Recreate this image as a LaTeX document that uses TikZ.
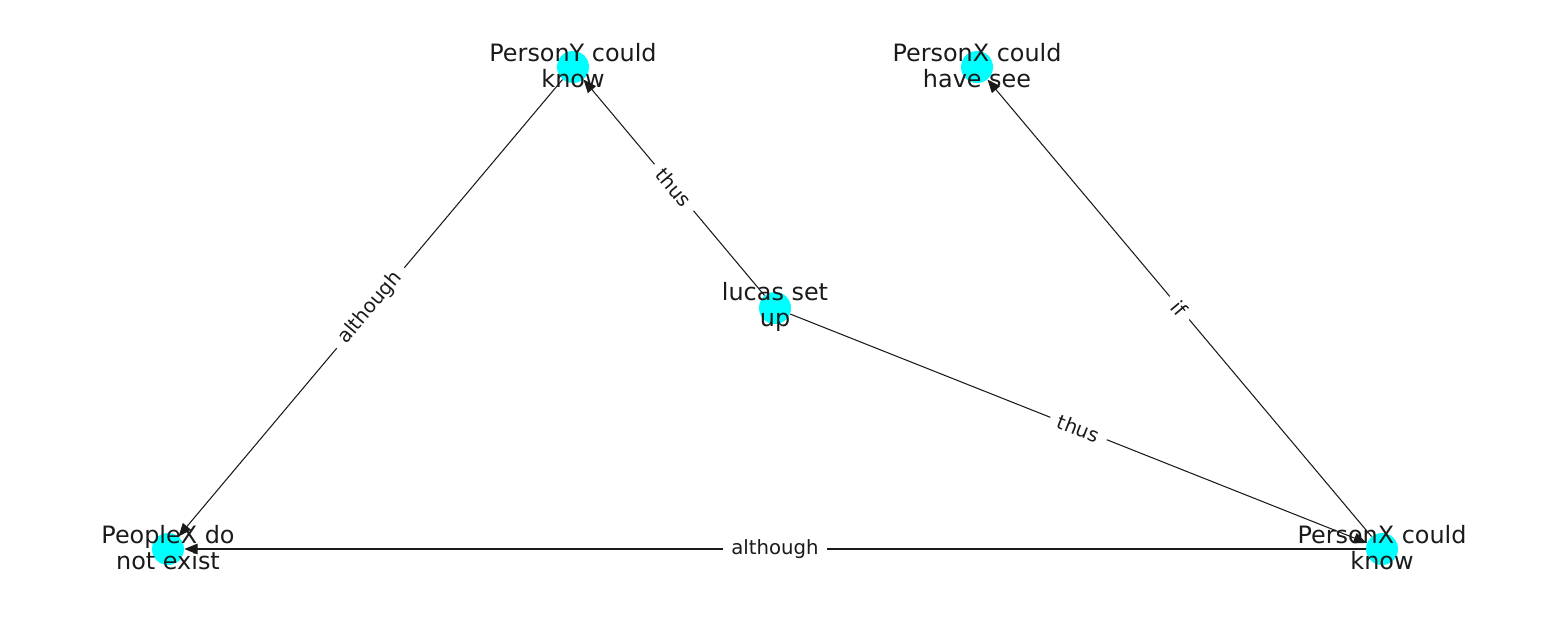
\documentclass[tikz,border=0pt]{standalone}
\usepackage{fontspec}
\setmainfont{DejaVu Sans}
\usetikzlibrary{arrows.meta}
\definecolor{nodecyan}{HTML}{00FFFF}
\definecolor{ink}{HTML}{1A1A1A}
\begin{document}
\begin{tikzpicture}[x=0.02cm,y=-0.02cm,
  dot/.style={circle,fill=nodecyan,minimum size=0.64cm,inner sep=0pt},
  caption/.style={text=ink,font=\fontsize{13.6}{14.8}\selectfont,align=center,inner sep=0pt},
  link/.style={draw=ink,line width=0.6pt,-{Triangle[length=7.5pt,width=6pt]}},
  tag/.style={fill=white,text=ink,font=\fontsize{11.2}{13}\selectfont,inner xsep=5pt,inner ysep=2pt,sloped}]
  \useasboundingbox (0,0) rectangle (1550,616);

  % node discs
  \node[dot] (py)  at (573,67)   {};
  \node[dot] (pxh) at (977,67)   {};
  \node[dot] (lu)  at (775,308)  {};
  \node[dot] (pe)  at (168,549)  {};
  \node[dot] (pxk) at (1382,549) {};

  % connectors
  \draw[link] (lu)  -- node[tag] {thus}     (py);
  \draw[link] (lu)  -- node[tag] {thus}     (pxk);
  \draw[link] (py)  -- node[tag] {although} (pe);
  \draw[link] (pxk) -- node[tag] {although} (pe);
  \draw[link] (pxk) -- node[tag] {if}       (pxh);

  % node texts
  \node[caption] (tpy)  at (573,66)   {PersonY could\\know};
  \node[caption] (tpxh) at (977,66)   {PersonX could\\have see};
  \node[caption] (tlu)  at (775,307)  {lucas set\\up};
  \node[caption] (tpe)  at (168,548)  {PeopleX do\\not exist};
  \node[caption] (tpxk) at (1382,548) {PersonX could\\know};
\end{tikzpicture}
\end{document}
